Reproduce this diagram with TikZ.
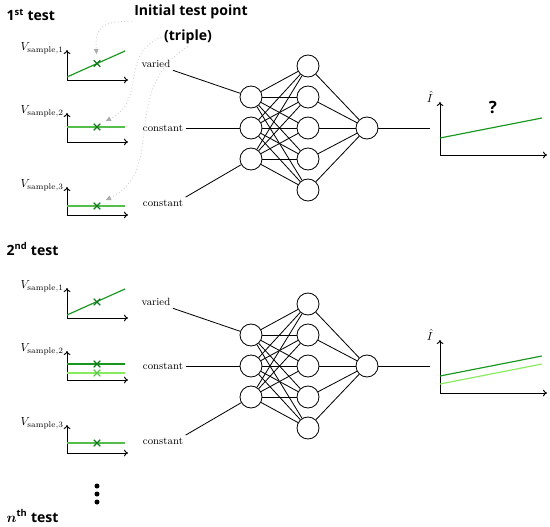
\documentclass[tikz,border=0pt]{standalone}
\usepackage{fontspec}
\setsansfont{Open Sans}
\usetikzlibrary{arrows.meta,shapes.misc}

\definecolor{darkgr}{RGB}{25,150,30}
\definecolor{midgr}{RGB}{85,190,75}
\definecolor{litegr}{RGB}{135,235,95}
\definecolor{crossgr}{RGB}{15,120,25}
\definecolor{crosslt}{RGB}{95,195,80}

\tikzset{
  neuron/.style={circle, draw, line width=0.7pt, minimum size=6.6mm, inner sep=0pt},
  wire/.style={line width=0.7pt},
  axis/.style={line width=0.8pt},
  gline/.style={line width=1pt},
  xmark/.style={cross out, draw=crossgr, line width=1pt, minimum size=1.6mm, inner sep=0pt},
  inlabel/.style={font=\small, inner sep=2pt},
  vlab/.style={anchor=east, inner sep=1pt},
  head/.style={font=\sffamily\bfseries\large, inner sep=2pt},
  hint/.style={dotted, draw=gray!35, line width=0.8pt, shorten >=1.8mm,
    -{Triangle[length=1.6mm, width=1.4mm, color=gray!65]}},
  dot/.style={circle, fill, minimum size=1.5mm, inner sep=0pt}
}

\begin{document}
\begin{tikzpicture}[x=0.3mm, y=-0.3mm, >={To[length=1.2mm, width=2mm]}]
  \useasboundingbox (0,0) rectangle (550,527);

  % Headings
  \node[head, anchor=west] (t1) at (4,15) {1\textsuperscript{st} test};
  \node[head] (init) at (191,12) {Initial test point};
  \node[head] (trip) at (188,37) {(triple)};
  \node[head, anchor=west] (t2) at (4,249) {2\textsuperscript{nd} test};
  \node[head, anchor=west] (tn) at (4,516) {{\boldmath$n$}\textsuperscript{th} test};

  % Both tests: plots, inputs and network
  \foreach \s/\dy in {a/0, b/238} {
    \begin{scope}[shift={(0,\dy)}]
      % Input plots
      \foreach \oy/\top/\i in {80/50/1, 142/113/2, 215/187/3} {
        \draw[axis, <->] (67,\top) -- (67,\oy) -- (128,\oy);
        \node[vlab] (\s-v\i) at (65,\top-2) {$V_{\mathrm{sample},\i}$};
      }

      % Network
      \foreach \j in {1,2,3}
        \node[neuron] (\s-i\j) at (251, 128+31*\j-62) {};
      \foreach \k in {1,...,5}
        \node[neuron] (\s-h\k) at (308, 128+31*\k-93) {};
      \node[neuron] (\s-o) at (367,128) {};
      \foreach \j in {1,2,3}
        \foreach \k in {1,...,5}
          \draw[wire] (\s-i\j) -- (\s-h\k);
      \foreach \k in {1,...,5}
        \draw[wire] (\s-h\k) -- (\s-o);

      % Inputs
      \node[inlabel] (\s-var) at (156,64) {varied};
      \node[inlabel] (\s-c2) at (163,128) {constant};
      \node[inlabel] (\s-c3) at (163,203) {constant};
      \draw[wire] (\s-var.south east) -- (\s-i1);
      \draw[wire] (\s-c2) -- (\s-i2);
      \draw[wire] (\s-c3.north east) -- (\s-i3);

      % Output plot
      \coordinate (\s-end) at (430,128);
      \draw[wire] (\s-o) -- (\s-end);
      \draw[axis, <->] (440,102) -- (440,155) -- (547,155);
      \node[inner sep=1pt] (\s-ihat) at (430,97) {$\hat{I}$};
    \end{scope}
  }

  % 1st test curves
  \draw[gline, darkgr] (67,77) -- (125,51);
  \draw[gline, midgr] (67,127) -- (125,127);
  \draw[gline, midgr] (67,206) -- (125,206);
  \node[xmark] (a-p1) at (97,63.5) {};
  \node[xmark] (a-p2) at (97,127) {};
  \node[xmark] (a-p3) at (97,206) {};
  \draw[gline, darkgr] (440,138) -- (542,118);
  \node[head, font=\sffamily\bfseries\Large] (qm) at (493,108) {?};

  % Pointers to the test point
  \draw[hint] (init.south west) .. controls (98,20) and (95,32) .. (a-p1.north);
  \draw[hint] (trip.west) .. controls (118,55) and (148,100) .. (a-p2.north east);
  \draw[hint] (trip.south) .. controls (118,90) and (168,170) .. (a-p3.north east);

  % 2nd test curves
  \draw[gline, darkgr] (67,315) -- (125,289);
  \draw[gline, darkgr] (67,364) -- (125,364);
  \draw[gline, litegr] (67,373) -- (125,373);
  \draw[gline, midgr] (67,443) -- (125,443);
  \node[xmark] (b-p1) at (97,302) {};
  \node[xmark] (b-p2) at (97,364) {};
  \node[xmark, draw=crosslt] (b-p2x) at (97,373) {};
  \node[xmark] (b-p3) at (97,443) {};
  \draw[gline, darkgr] (440,376) -- (542,356);
  \draw[gline, litegr] (440,384) -- (542,364);

  % More tests
  \foreach \k in {0,1,2}
    \node[dot] (more\k) at (97,486+8*\k) {};
\end{tikzpicture}
\end{document}
